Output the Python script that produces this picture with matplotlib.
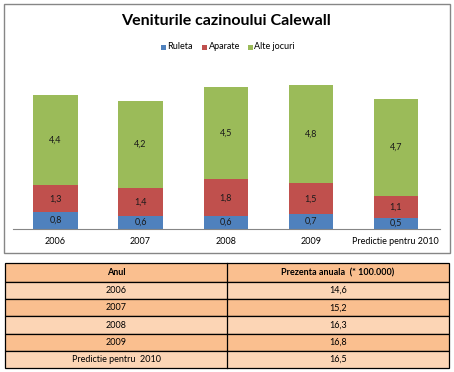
import matplotlib
matplotlib.use("Agg")
import matplotlib.pyplot as plt
from matplotlib.patches import Rectangle
import numpy as np

categories = ["2006", "2007", "2008", "2009", "Predictie pentru 2010"]
ruleta = [0.8, 0.6, 0.6, 0.7, 0.5]
aparate = [1.3, 1.4, 1.8, 1.5, 1.1]
alte = [4.4, 4.2, 4.5, 4.8, 4.7]
series_names = ["Ruleta", "Aparate", "Alte jocuri"]
colors = ["#4F81BD", "#C0504D", "#9BBB59"]

table_header = ["Anul", "Prezenta anuala  (* 100.000)"]
table_years = ["2006", "2007", "2008", "2009", "Predictie pentru  2010"]
table_values = ["14,6", "15,2", "16,3", "16,8", "16,5"]

plt.rcParams['font.family'] = ['Lato', 'DejaVu Sans']

W, H = 454, 372
fig = plt.figure(figsize=(W/100, H/100), dpi=100)

def fx(px): return px / W
def fy(py): return 1 - py / H

# chart border
fig.patches.append(Rectangle((fx(3.5), fy(252.5)), fx(446), (249)/H, transform=fig.transFigure,
                             fill=False, edgecolor="#868686", linewidth=1.0))

ax = fig.add_axes([fx(13), fy(228.5), fx(427), 164/H])
x = np.arange(len(categories))
bottom = np.zeros(len(categories))
for vals, c in zip([ruleta, aparate, alte], colors):
    ax.bar(x, vals, width=0.52, bottom=bottom, color=c, edgecolor='none')
    for xi, b, v in zip(x, bottom, vals):
        ax.text(xi, b + v/2, f"{v:.1f}".replace('.', ','), ha='center', va='center',
                fontsize=6.5, color='#1a1a1a')
    bottom = bottom + np.array(vals)

ax.set_xlim(-0.5, 4.52)
ax.set_ylim(0, 8)
for s in ['top', 'right', 'left']:
    ax.spines[s].set_visible(False)
ax.spines['bottom'].set_color('#868686')
ax.set_yticks([])
ax.set_xticks(x)
ax.set_xticklabels(categories, fontsize=6.5)
ax.tick_params(axis='x', length=0, pad=6)

fig.text(fx(226), fy(21), "Veniturile cazinoului Calewall", ha='center', va='center',
         fontsize=11.5, fontweight='bold')

# legend
leg_items = [(161, "Ruleta"), (202, "Aparate"), (248, "Alte jocuri")]
for (lx, name), c in zip(leg_items, colors):
    fig.patches.append(Rectangle((fx(lx), fy(49.5)), fx(5), 5/H, transform=fig.transFigure,
                                 facecolor=c, edgecolor='none'))
    fig.text(fx(lx + 6.5), fy(46.5), name, ha='left', va='center', fontsize=6.5)

# table
tax = fig.add_axes([0, 0, 1, 1])
tax.set_xlim(0, W)
tax.set_ylim(H, 0)
tax.axis('off')
dark, light = "#FABF8F", "#FCD5B5"
left, mid, right = 5, 227, 448.5
row_edges = [263, 282, 299.2, 316.4, 333.6, 350.8, 368]
rows = [table_header] + [[a, b] for a, b in zip(table_years, table_values)]
for i, r in enumerate(rows):
    top, bot = row_edges[i], row_edges[i+1]
    col = dark if i % 2 == 0 else light
    tax.add_patch(Rectangle((left, top), right - left, bot - top, facecolor=col,
                            edgecolor='black', linewidth=0.9))
    tax.plot([mid, mid], [top, bot], color='black', linewidth=0.9)
    weight = 'bold' if i == 0 else 'normal'
    tax.text((left + mid)/2, (top + bot)/2, r[0], ha='center', va='center', fontsize=6.5, fontweight=weight)
    tax.text((mid + right)/2, (top + bot)/2, r[1], ha='center', va='center', fontsize=6.5, fontweight=weight)

fig.savefig("out.png", dpi=100)
